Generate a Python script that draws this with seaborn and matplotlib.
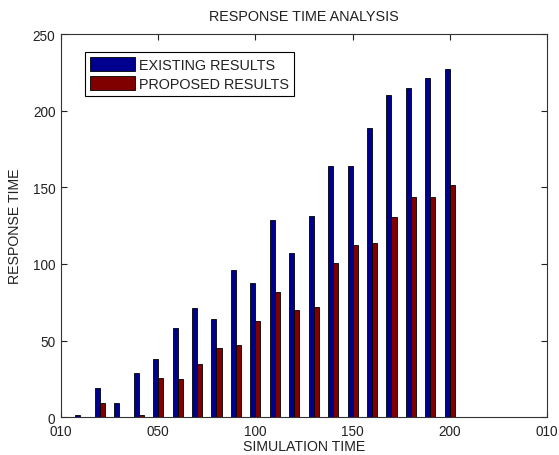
import matplotlib
matplotlib.use("Agg")
import matplotlib.pyplot as plt
import seaborn as sns
import pandas as pd
from matplotlib.patches import Patch

sim_time = [10, 20, 30, 40, 50, 60, 70, 80, 90, 100,
            110, 120, 130, 140, 150, 160, 170, 180, 190, 200]
existing = [1.5, 19, 9.5, 28.7, 38, 58, 71, 64, 96, 87.5,
            129, 107, 131, 164, 164, 189, 210, 214.5, 221.5, 227]
proposed = [0.5, 9.5, 0.5, 1.5, 25.5, 24.7, 35, 45.5, 47, 62.5,
            81.5, 70, 72, 100.5, 112.5, 113.5, 130.5, 143.5, 143.5, 151.5]
series_names = ["EXISTING RESULTS", "PROPOSED RESULTS"]
colors = ["#00008F", "#800000"]
xtick_values = [0, 50, 100, 150, 200, 250]
xtick_labels = ["010", "050", "100", "150", "200", "010"]
ytick_values = [0, 50, 100, 150, 200, 250]

df = pd.DataFrame({
    "time": sim_time * 2,
    "value": existing + proposed,
    "series": [series_names[0]] * len(sim_time) + [series_names[1]] * len(sim_time),
})

sns.set_style("ticks")
plt.rcParams["font.family"] = ["Liberation Sans", "DejaVu Sans"]
plt.rcParams["font.size"] = 10
text_color = "#222222"

fig = plt.figure(figsize=(5.59, 4.56), dpi=100)
ax = fig.add_axes([0.109, 0.0827, 0.8695, 0.8405])

sns.barplot(data=df, x="time", y="value", hue="series", native_scale=True,
            palette=colors, width=0.52, edgecolor="black", linewidth=0.6,
            errorbar=None, legend=False, ax=ax, saturation=1)

ax.set_xlim(0, 250)
ax.set_ylim(0, 250)
ax.set_xticks(xtick_values)
ax.set_xticklabels(xtick_labels)
ax.set_yticks(ytick_values)
ax.tick_params(direction="in", length=4, width=0.8, top=True, right=True,
               labelsize=9.8, colors=text_color)
ax.tick_params(axis="x", pad=5)
ax.tick_params(axis="y", pad=4)
for s in ax.spines.values():
    s.set_visible(True)
    s.set_color("#333333")
    s.set_linewidth(0.8)

ax.set_title("RESPONSE TIME ANALYSIS", fontsize=10.4, pad=10, color=text_color)
ax.set_xlabel("SIMULATION TIME", fontsize=10.2, labelpad=0.5, color=text_color)
ax.set_ylabel("RESPONSE TIME", fontsize=10.2, labelpad=8, color=text_color)

handles = [Patch(facecolor=c, edgecolor="black", linewidth=0.6) for c in colors]
leg = ax.legend(handles, series_names, loc="upper left",
                bbox_to_anchor=(0.049, 0.954), prop={"size": 10.4},
                frameon=True, fancybox=False, framealpha=1, edgecolor="black",
                handlelength=3.15, handleheight=1.15, handletextpad=0.25,
                borderpad=0.35, labelspacing=0.3, borderaxespad=0)
leg.get_frame().set_linewidth(0.8)
for t in leg.get_texts():
    t.set_color(text_color)

fig.savefig("out.png", dpi=100)
